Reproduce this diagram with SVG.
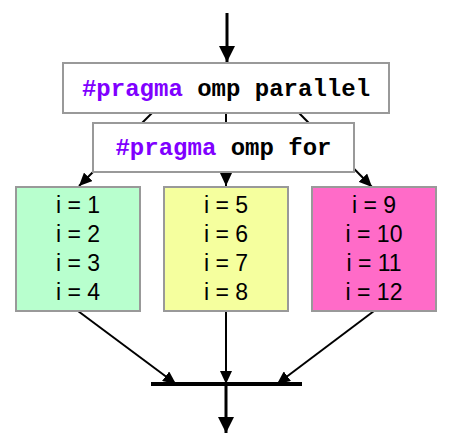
<svg xmlns="http://www.w3.org/2000/svg" width="452" height="445" viewBox="0 0 452 445">
<defs>
<style>
.box{stroke:#999999;stroke-width:2}
.code{font-family:"Liberation Mono","Courier New",monospace;font-weight:bold;font-size:24px;fill:#000}
.kw{fill:#8000FF}
.num{font-family:"Liberation Sans",Arial,sans-serif;font-size:23px;fill:#000;text-anchor:middle}
.edge{stroke:#000;stroke-width:2;fill:none}
.thick{stroke:#000;stroke-width:3;fill:none}
</style>
<marker id="big" markerUnits="userSpaceOnUse" markerWidth="16" markerHeight="18" refX="16" refY="8" orient="auto">
<path d="M0,0 L16,8 L0,16 Z" fill="#000"/>
</marker>
<marker id="small" markerUnits="userSpaceOnUse" markerWidth="14" markerHeight="12" refX="13" refY="6" orient="auto">
<path d="M0,0 L13,6 L0,12 Z" fill="#000"/>
</marker>
</defs>
<rect width="452" height="445" fill="#fff"/>
<g id="connectors">
<line class="thick" x1="227" y1="13" x2="227" y2="62" marker-end="url(#big)"/>
<line class="edge" x1="152" y1="113" x2="79" y2="186" marker-end="url(#small)"/>
<line class="edge" x1="226" y1="113" x2="226" y2="186" marker-end="url(#small)"/>
<line class="edge" x1="299" y1="113" x2="372" y2="187" marker-end="url(#small)"/>
<line class="edge" x1="78" y1="311" x2="176" y2="384" marker-end="url(#small)"/>
<line class="edge" x1="226" y1="311" x2="226" y2="384" marker-end="url(#small)"/>
<line class="edge" x1="374" y1="311" x2="277" y2="384" marker-end="url(#small)"/>
<line stroke="#000" stroke-width="4" x1="151" y1="384" x2="302" y2="384"/>
<line class="thick" x1="226" y1="384" x2="226" y2="433" marker-end="url(#big)"/>
</g>
<g id="parallel">
<rect class="box" x="63" y="63" width="326" height="50" fill="#fff"/>
<text class="code" x="226" y="96" text-anchor="middle"><tspan class="kw">#pragma</tspan> omp parallel</text>
</g>
<g id="for">
<rect class="box" x="93" y="123" width="261" height="49" fill="#fff"/>
<text class="code" x="223.5" y="155" text-anchor="middle"><tspan class="kw">#pragma</tspan> omp for</text>
</g>
<g id="thread1">
<rect class="box" x="16" y="187" width="124" height="124" fill="#B8FFCE"/>
<text class="num" x="78" y="212.5">i = 1</text>
<text class="num" x="78" y="241.5">i = 2</text>
<text class="num" x="78" y="270.5">i = 3</text>
<text class="num" x="78" y="299.5">i = 4</text>
</g>
<g id="thread2">
<rect class="box" x="164" y="187" width="124" height="124" fill="#F5FF9E"/>
<text class="num" x="226" y="212.5">i = 5</text>
<text class="num" x="226" y="241.5">i = 6</text>
<text class="num" x="226" y="270.5">i = 7</text>
<text class="num" x="226" y="299.5">i = 8</text>
</g>
<g id="thread3">
<rect class="box" x="312" y="187" width="124" height="124" fill="#FF6BC8"/>
<text class="num" x="374" y="212.5">i = 9</text>
<text class="num" x="374" y="241.5">i = 10</text>
<text class="num" x="374" y="270.5">i = 11</text>
<text class="num" x="374" y="299.5">i = 12</text>
</g>
</svg>
